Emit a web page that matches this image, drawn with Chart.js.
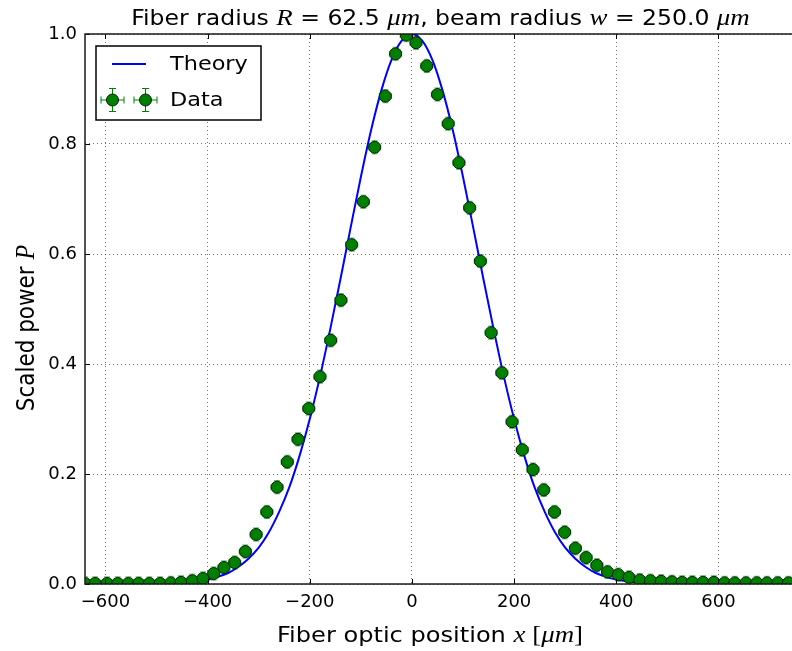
<!DOCTYPE html>
<html><head><meta charset="utf-8">
<script src="https://cdn.jsdelivr.net/npm/chart.js@4/dist/chart.umd.min.js"></script>
<style>html,body{margin:0;padding:0;background:#fff;}#wrap{width:792px;height:651px;position:relative;}</style>
</head><body><div id="wrap"><canvas id="c" width="792" height="651"></canvas></div>
<script>
// ---- data ----
const xData = [-640,-620,-597,-576,-555,-535,-514,-493,-472,-452,-430,-409,-388,-368,-347,-326,-305,-284,-264,-244,-223,-202,-180,-159,-139,-118,-95,-73,-52,-32,-11,
  8,29,50,71,92,113,134,155,176,196,216,237,258,279,299,320,341,362,383,404,425,446,467,488,509,529,549,570,591,612,632,654,675,695,716,737];
const yData = [0.001,0.001,0.001,0.001,0.001,0.001,0.001,0.001,0.002,0.003,0.006,0.010,0.019,0.030,0.039,0.059,0.090,0.131,0.176,0.222,0.263,0.319,0.377,0.443,0.516,0.617,0.695,0.794,0.887,0.964,0.998,
  0.984,0.942,0.890,0.837,0.766,0.684,0.587,0.457,0.384,0.295,0.244,0.208,0.171,0.131,0.094,0.065,0.048,0.034,0.022,0.017,0.012,0.007,0.006,0.005,0.004,0.003,0.003,0.003,0.003,0.002,0.002,0.002,0.002,0.002,0.002,0.002];
const X_ERR = 12;      // horizontal error (µm)
const Y_ERR = 0.012;   // vertical error
const xTheory = [-640,-600,-560,-520,-500,-480,-460,-440,-420,-400,-380,-360,-340,-320,-300,-280,-260,-240,-220,-200,-180,-160,-140,-120,-100,-80,-60,-40,-20,0,
  20,40,60,80,100,120,140,160,180,200,220,240,260,280,300,320,340,360,380,400,420,440,460,480,500,520,560,600,650,700,744];
const yTheory = [0,0,0,0.0003,0.0005,0.001,0.0017,0.003,0.005,0.008,0.013,0.020,0.031,0.046,0.066,0.094,0.131,0.176,0.233,0.300,0.377,0.463,0.554,0.648,0.740,0.825,0.897,0.953,0.988,1.0,
  0.988,0.953,0.897,0.825,0.740,0.648,0.554,0.463,0.377,0.300,0.233,0.176,0.131,0.094,0.066,0.046,0.031,0.020,0.013,0.008,0.005,0.003,0.0017,0.001,0.0005,0.0003,0,0,0,0,0];
const xTicks = [-600,-400,-200,0,200,400,600];
const yTicks = [0.0,0.2,0.4,0.6,0.8,1.0];
const X_MIN = -640, X_MAX = 744, Y_MIN = 0, Y_MAX = 1;
// text parts: [text, style] style 0 = sans, 1 = math italic, 2 = math upright
const titleParts = [['Fiber radius ',0],['R',1],[' = 62.5 ',0],['\u03BCm',1],[', beam radius ',0],['w',1],[' = 250.0 ',0],['\u03BCm',1]];
const xLabelParts = [['Fiber optic position ',0],['x',1],[' [',2],['\u03BCm',1],[']',2]];
const yLabelParts = [['Scaled power ',0],['P',1]];
const legendLabels = ['Theory','Data'];

const GREEN = '#008000', BLUE = '#0000ff';
const STRETCH = 1.12;

function fontFor(style, size){
  if (style === 1) return 'italic ' + Math.round(size*1.12) + 'px "Liberation Serif"';
  if (style === 2) return Math.round(size*1.12) + 'px "Liberation Serif"';
  return size + 'px "DejaVu Sans"';
}
function richWidth(ctx, parts, size){
  let w = 0;
  for (const [t,s] of parts){ ctx.font = fontFor(s,size); w += ctx.measureText(t).width; }
  return w;
}
function drawRich(ctx, parts, size, baseY){
  const w = richWidth(ctx, parts, size);
  let x = -w/2;
  ctx.textBaseline = 'alphabetic'; ctx.textAlign = 'left'; ctx.fillStyle = '#000';
  for (const [t,s] of parts){ ctx.font = fontFor(s,size); ctx.fillText(t, x, baseY); x += ctx.measureText(t).width; }
}
function drawErrMarker(ctx, px, py, hx, hy, cap){
  ctx.strokeStyle = GREEN; ctx.lineWidth = 1;
  ctx.beginPath();
  ctx.moveTo(px-hx, py); ctx.lineTo(px+hx, py);
  ctx.moveTo(px, py-hy); ctx.lineTo(px, py+hy);
  ctx.moveTo(px-hx, py-cap); ctx.lineTo(px-hx, py+cap);
  ctx.moveTo(px+hx, py-cap); ctx.lineTo(px+hx, py+cap);
  ctx.moveTo(px-cap, py-hy); ctx.lineTo(px+cap, py-hy);
  ctx.moveTo(px-cap, py+hy); ctx.lineTo(px+cap, py+hy);
  ctx.stroke();
}

const decor = {
  id: 'decor',
  beforeDatasetsDraw(chart){
    const {ctx, chartArea:a, scales:{x, y}} = chart;
    ctx.save();
    ctx.beginPath(); ctx.rect(a.left, a.top, a.right-a.left, a.bottom-a.top); ctx.clip();
    ctx.globalAlpha = 0.6;
    for (let i = 0; i < xData.length; i++){
      const px = x.getPixelForValue(xData[i]), py = y.getPixelForValue(yData[i]);
      const hx = x.getPixelForValue(xData[i]+X_ERR) - px;
      const hy = py - y.getPixelForValue(yData[i]+Y_ERR);
      drawErrMarker(ctx, px, py, hx, hy, 3);
    }
    ctx.restore();
  },
  afterDraw(chart){
    const {ctx, chartArea:a, scales:{x, y}} = chart;
    ctx.save();
    ctx.strokeStyle = '#000'; ctx.lineWidth = 1;
    ctx.beginPath();
    for (const v of xTicks){
      const p = Math.round(x.getPixelForValue(v)) + 0.5;
      ctx.moveTo(p, a.bottom); ctx.lineTo(p, a.bottom-5);
      ctx.moveTo(p, a.top); ctx.lineTo(p, a.top+5);
    }
    for (const v of yTicks){
      const p = Math.round(y.getPixelForValue(v)) + 0.5;
      ctx.moveTo(a.left, p); ctx.lineTo(a.left+5, p);
    }
    ctx.stroke();
    ctx.strokeStyle = '#1a1a1a'; ctx.lineWidth = 1.5;
    ctx.strokeRect(a.left, a.top, a.right-a.left+4, a.bottom-a.top);
    // legend
    const L = 96, T = 46, R = 261, B = 120;
    ctx.fillStyle = '#fff'; ctx.fillRect(L, T, R-L, B-T);
    ctx.strokeStyle = '#000'; ctx.lineWidth = 1.5; ctx.strokeRect(L, T, R-L, B-T);
    ctx.strokeStyle = BLUE; ctx.lineWidth = 1.8;
    ctx.beginPath(); ctx.moveTo(112, 64); ctx.lineTo(146, 64); ctx.stroke();
    for (const mx of [112.5, 145.5]){
      drawErrMarker(ctx, mx, 100, 11.5, 11.5, 3.5);
      ctx.beginPath(); ctx.arc(mx, 100, 6, 0, Math.PI*2);
      ctx.fillStyle = GREEN; ctx.fill(); ctx.strokeStyle = '#002200'; ctx.lineWidth = 1; ctx.stroke();
    }
    ctx.save();
    ctx.translate(170, 0); ctx.scale(STRETCH, 1);
    ctx.fillStyle = '#000'; ctx.font = '20px "DejaVu Sans"'; ctx.textBaseline = 'middle'; ctx.textAlign = 'left';
    ctx.fillText(legendLabels[0], 0, 65);
    ctx.fillText(legendLabels[1], 0, 101);
    ctx.restore();
    ctx.save(); ctx.translate(440.5, 0); ctx.scale(STRETCH, 1);
    drawRich(ctx, titleParts, 21, 25); ctx.restore();
    ctx.save(); ctx.translate(430, 0); ctx.scale(STRETCH, 1);
    drawRich(ctx, xLabelParts, 21.5, 642); ctx.restore();
    ctx.save();
    ctx.translate(34, 328); ctx.scale(STRETCH, 1); ctx.rotate(-Math.PI/2);
    drawRich(ctx, yLabelParts, 21.5, 0);
    ctx.restore();
    ctx.restore();
  }
};

new Chart(document.getElementById('c'), {
  type: 'line',
  data: { datasets: [
    { type: 'scatter', label: legendLabels[1], showLine: false,
      data: xData.map((v,i) => ({x: v, y: yData[i]})),
      backgroundColor: GREEN, borderColor: '#002200', borderWidth: 1, pointRadius: 6, order: 1, clip: 0 },
    { type: 'line', label: legendLabels[0],
      data: xTheory.map((v,i) => ({x: v, y: yTheory[i]})),
      borderColor: BLUE, borderWidth: 2, pointRadius: 0, fill: false,
      cubicInterpolationMode: 'monotone', order: 2, clip: 0 }
  ]},
  options: {
    responsive: false, animation: false, devicePixelRatio: 1,
    layout: { autoPadding: false, padding: { top: 34, left: 0, right: 0, bottom: 0 } },
    plugins: { legend: { display: false }, title: { display: false }, tooltip: { enabled: false } },
    scales: {
      x: { type: 'linear', min: X_MIN, max: X_MAX,
        afterBuildTicks: s => { s.ticks = xTicks.map(v => ({value: v})); },
        afterFit: s => { s.height = 67; },
        grid: { color: 'rgba(0,0,0,0.55)', lineWidth: 1, drawTicks: false },
        border: { display: false, dash: [1, 3] },
        ticks: { color: '#000', font: { family: 'DejaVu Sans', size: 18 }, padding: 8, maxRotation: 0,
          callback: v => (v < 0 ? '\u2212' + Math.abs(v) : String(v)) } },
      y: { type: 'linear', min: Y_MIN, max: Y_MAX,
        afterBuildTicks: s => { s.ticks = yTicks.map(v => ({value: v})); },
        afterFit: s => { s.width = 85; },
        grid: { color: 'rgba(0,0,0,0.55)', lineWidth: 1, drawTicks: false },
        border: { display: false, dash: [1, 3] },
        ticks: { color: '#000', font: { family: 'DejaVu Sans', size: 18 }, padding: 8,
          callback: v => Number(v).toFixed(1) } }
    }
  },
  plugins: [decor]
});
</script>
</body></html>
